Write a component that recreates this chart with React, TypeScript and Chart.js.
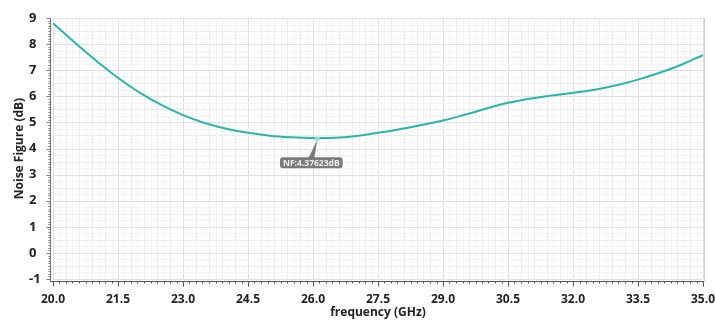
import React, { useEffect, useRef } from "react";
import { Chart, registerables } from "chart.js";

Chart.register(...registerables);

// ---- data ----
const freqGHz = [
  20.0, 20.5, 21.0, 21.5, 22.0, 22.5, 23.0, 23.5, 24.0, 24.5, 25.0, 25.5, 26.0,
  26.5, 27.0, 27.5, 28.0, 28.5, 29.0, 29.5, 30.0, 30.5, 31.0, 31.5, 32.0, 32.5,
  33.0, 33.5, 34.0, 34.5, 35.0,
];
const noiseFigureDB = [
  8.8, 8.06, 7.36, 6.71, 6.14, 5.67, 5.28, 4.98, 4.76, 4.6, 4.49, 4.43, 4.4,
  4.41, 4.48, 4.6, 4.74, 4.9, 5.07, 5.29, 5.53, 5.75, 5.91, 6.03, 6.13, 6.25,
  6.42, 6.64, 6.9, 7.21, 7.58,
];
const xTickValues = [20.0, 21.5, 23.0, 24.5, 26.0, 27.5, 29.0, 30.5, 32.0, 33.5, 35.0];
const yTickValues = [-1, 0, 1, 2, 3, 4, 5, 6, 7, 8, 9];
const markerFreq = 26.1;
const markerNF = 4.37623;
const markerLabel = "NF:4.37623dB";
const xTitle = "frequency (GHz)";
const yTitle = "Noise Figure (dB)";

const FONT = "'Open Sans', 'DejaVu Sans', sans-serif";
const LINE_COLOR = "rgb(44,180,172)";

const crisp = (v: number) => Math.round(v) + 0.5;

const customPlugin = {
  id: "customDecor",
  beforeDatasetsDraw(chart: any) {
    const { ctx, chartArea, scales } = chart;
    const { left, right, top, bottom } = chartArea;
    const x = scales.x;
    const y = scales.y;
    ctx.save();
    ctx.lineWidth = 1;
    // vertical grid (every 0.15 GHz, stronger every 0.3, major every 1.5)
    for (let k = 0; k <= 100; k++) {
      const v = 20 + k * 0.15;
      const px = crisp(x.getPixelForValue(v));
      ctx.strokeStyle = k % 10 === 0 ? "#e0e0e0" : k % 2 === 0 ? "#ececec" : "#f5f5f5";
      ctx.beginPath();
      ctx.moveTo(px, top);
      ctx.lineTo(px, bottom);
      ctx.stroke();
    }
    // horizontal grid (every 0.25 dB)
    for (let k = 0; k <= 40; k++) {
      const v = -1 + k * 0.25;
      const py = crisp(y.getPixelForValue(v));
      ctx.strokeStyle = k % 4 === 0 ? "#e0e0e0" : k % 2 === 0 ? "#ebebeb" : "#f3f3f3";
      ctx.beginPath();
      ctx.moveTo(left, py);
      ctx.lineTo(right, py);
      ctx.stroke();
    }
    // right border
    ctx.strokeStyle = "#cfcfcf";
    ctx.beginPath();
    ctx.moveTo(crisp(right + 1), top);
    ctx.lineTo(crisp(right + 1), bottom + 2);
    ctx.stroke();
    ctx.restore();
  },
  afterDraw(chart: any) {
    const { ctx, chartArea, scales } = chart;
    const { left, right, top, bottom } = chartArea;
    const x = scales.x;
    const y = scales.y;
    ctx.save();
    ctx.lineWidth = 1;
    ctx.strokeStyle = "#555";
    // x axis line + ticks
    const axY = crisp(bottom + 2);
    ctx.beginPath();
    ctx.moveTo(left - 3, axY);
    ctx.lineTo(right + 1, axY);
    ctx.stroke();
    for (let k = 0; k <= 100; k++) {
      const v = 20 + k * 0.15;
      const px = crisp(x.getPixelForValue(v));
      const len = k % 10 === 0 ? 5 : 2;
      ctx.beginPath();
      ctx.moveTo(px, axY);
      ctx.lineTo(px, axY + len);
      ctx.stroke();
    }
    // y axis line + ticks
    const axX = crisp(left - 3);
    ctx.strokeStyle = "#777";
    ctx.beginPath();
    ctx.moveTo(axX, top);
    ctx.lineTo(axX, axY);
    ctx.stroke();
    for (let k = 0; k <= 100; k++) {
      const v = -1 + k * 0.1;
      const py = crisp(y.getPixelForValue(v));
      const len = k % 10 === 0 ? 4 : 2;
      ctx.beginPath();
      ctx.moveTo(axX, py);
      ctx.lineTo(axX - len, py);
      ctx.stroke();
    }
    // y title
    ctx.fillStyle = "#222";
    ctx.font = `bold 12px ${FONT}`;
    ctx.textAlign = "center";
    ctx.textBaseline = "middle";
    ctx.save();
    ctx.translate(20, (top + bottom) / 2);
    ctx.rotate(-Math.PI / 2);
    ctx.fillText(yTitle, 0, 0);
    ctx.restore();

    // marker annotation
    const mx = x.getPixelForValue(markerFreq);
    const my = y.getPixelForValue(markerNF);
    const bx = mx - 6;
    const by = my + 24;
    ctx.font = `bold 8.5px ${FONT}`;
    const tw = ctx.measureText(markerLabel).width;
    const bw = tw + 6;
    const bh = 11;
    ctx.fillStyle = "rgba(112,112,112,0.92)";
    // pointer
    ctx.beginPath();
    ctx.moveTo(mx, my + 1);
    ctx.lineTo(bx - 3, by - bh / 2 + 1);
    ctx.lineTo(bx + 3, by - bh / 2 + 1);
    ctx.closePath();
    ctx.fill();
    // box
    const r = 3;
    const x0 = bx - bw / 2;
    const y0 = by - bh / 2;
    ctx.beginPath();
    ctx.moveTo(x0 + r, y0);
    ctx.lineTo(x0 + bw - r, y0);
    ctx.quadraticCurveTo(x0 + bw, y0, x0 + bw, y0 + r);
    ctx.lineTo(x0 + bw, y0 + bh - r);
    ctx.quadraticCurveTo(x0 + bw, y0 + bh, x0 + bw - r, y0 + bh);
    ctx.lineTo(x0 + r, y0 + bh);
    ctx.quadraticCurveTo(x0, y0 + bh, x0, y0 + bh - r);
    ctx.lineTo(x0, y0 + r);
    ctx.quadraticCurveTo(x0, y0, x0 + r, y0);
    ctx.closePath();
    ctx.fill();
    ctx.fillStyle = "#f0f0f0";
    ctx.textAlign = "center";
    ctx.textBaseline = "middle";
    ctx.fillText(markerLabel, bx, by + 0.5);
    // marker dot
    ctx.fillStyle = "rgba(150,220,214,0.95)";
    ctx.beginPath();
    ctx.arc(mx, my, 2.5, 0, Math.PI * 2);
    ctx.fill();
    ctx.restore();
  },
};

export default function App() {
  const canvasRef = useRef<HTMLCanvasElement | null>(null);

  useEffect(() => {
    if (!canvasRef.current) return;
    const chart = new Chart(canvasRef.current, {
      type: "line",
      data: {
        datasets: [
          {
            label: "NF",
            data: freqGHz.map((f, i) => ({ x: f, y: noiseFigureDB[i] })),
            borderColor: LINE_COLOR,
            borderWidth: 2,
            pointRadius: 0,
            tension: 0.4,
            fill: false,
          },
        ],
      },
      options: {
        animation: false,
        responsive: true,
        maintainAspectRatio: false,
        layout: { padding: { left: 29, right: 12, top: 18, bottom: 0 } },
        plugins: { legend: { display: false }, tooltip: { enabled: false } },
        scales: {
          x: {
            type: "linear",
            min: 20,
            max: 35,
            afterBuildTicks: (axis: any) => {
              axis.ticks = xTickValues.map((v) => ({ value: v }));
            },
            afterFit: (axis: any) => {
              axis.height = 41;
              axis.paddingLeft = 0;
              axis.paddingRight = 0;
            },
            grid: { display: false, drawTicks: false },
            border: { display: false },
            ticks: {
              autoSkip: false,
              maxRotation: 0,
              padding: 13,
              color: "#222",
              font: { family: FONT, size: 12, weight: "bold" },
              callback: (v: any) => Number(v).toFixed(1),
            },
            title: {
              display: true,
              text: xTitle,
              color: "#222",
              font: { family: FONT, size: 12, weight: "bold" },
              padding: { top: 0, bottom: 0 },
            },
          },
          y: {
            type: "linear",
            min: -1,
            max: 9,
            afterBuildTicks: (axis: any) => {
              axis.ticks = yTickValues.map((v) => ({ value: v }));
            },
            afterFit: (axis: any) => {
              axis.width = 24;
              axis.paddingTop = 0;
              axis.paddingBottom = 0;
            },
            grid: { display: false, drawTicks: false },
            border: { display: false },
            ticks: {
              autoSkip: false,
              crossAlign: "far",
              color: "#222",
              font: { family: FONT, size: 13, weight: "bold" },
              callback: (v: any) => String(v),
            },
          },
        },
      },
      plugins: [customPlugin],
    } as any);
    return () => chart.destroy();
  }, []);

  return (
    <div style={{ position: "fixed", left: 0, top: 0, width: 715, height: 320, background: "#fff" }}>
      <canvas ref={canvasRef} />
    </div>
  );
}
